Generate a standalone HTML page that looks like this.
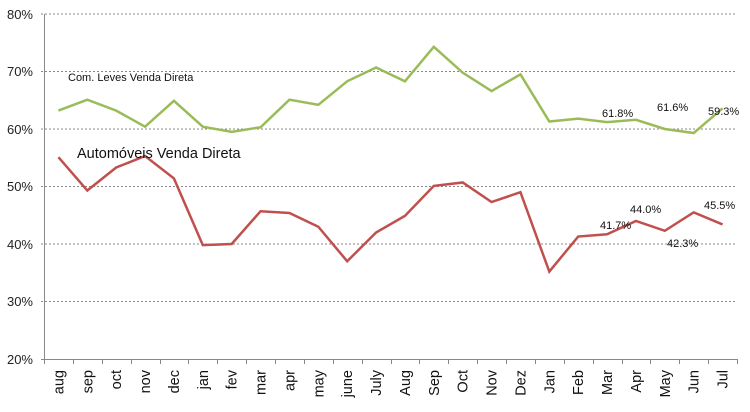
<!DOCTYPE html>
<html><head><meta charset="utf-8"><style>
html,body{margin:0;padding:0;background:#fff}
svg{display:block;font-family:"Liberation Sans",sans-serif}
</style></head><body>
<svg width="750" height="412" viewBox="0 0 750 412" xmlns="http://www.w3.org/2000/svg">
<g stroke="#888" stroke-dasharray="2,2" stroke-width="1">
<line x1="41" y1="14" x2="737" y2="14"/>
<line x1="41" y1="71.5" x2="737" y2="71.5"/>
<line x1="41" y1="129" x2="737" y2="129"/>
<line x1="41" y1="186.5" x2="737" y2="186.5"/>
<line x1="41" y1="244" x2="737" y2="244"/>
<line x1="41" y1="301.5" x2="737" y2="301.5"/>
</g>
<line x1="44.5" y1="14" x2="44.5" y2="359" stroke="#888"/>
<line x1="41" y1="359.5" x2="737" y2="359.5" stroke="#888"/>
<g id="ticks" stroke="#888"></g>
<g font-size="13" fill="#222" text-anchor="end">
<text x="33" y="19">80%</text><text x="33" y="76">70%</text><text x="33" y="134">60%</text>
<text x="33" y="191">50%</text><text x="33" y="249">40%</text><text x="33" y="306">30%</text><text x="33" y="364">20%</text>
</g>
<g id="xl" font-size="14.5" fill="#111"></g>
<polyline id="g" fill="none" stroke="#9bbb59" stroke-width="2.5"/>
<polyline id="r" fill="none" stroke="#c0504d" stroke-width="2.5"/>
<text x="68" y="81" font-size="11" fill="#111">Com. Leves Venda Direta</text>
<text x="77" y="158" font-size="14.5" fill="#111">Automóveis Venda Direta</text>
<g font-size="11" fill="#111">
<text x="602" y="117">61.8%</text><text x="657" y="111">61.6%</text><text x="708" y="115">59.3%</text>
<text x="600" y="229">41.7%</text><text x="630" y="213">44.0%</text><text x="667" y="247">42.3%</text><text x="704" y="209">45.5%</text>
</g>
<script>
var labs=["aug","sep","oct","nov","dec","jan","fev","mar","apr","may","june","July","Aug","Sep","Oct","Nov","Dez","Jan","Feb","Mar","Apr","May","Jun","Jul"];
var G=[63.2,65.1,63.2,60.4,64.9,60.4,59.5,60.3,65.1,64.2,68.3,70.7,68.3,74.3,69.8,66.6,69.5,61.3,61.8,61.2,61.6,60.0,59.3,63.6];
var R=[55.1,49.3,53.3,55.3,51.4,39.8,40.0,45.7,45.4,43.0,37.0,42.0,44.9,50.1,50.7,47.3,49.0,35.2,41.3,41.7,44.0,42.3,45.5,43.4];
var ns="http://www.w3.org/2000/svg",w=28.875;
function X(i){return 44+w/2+i*w}function Y(v){return 14+(80-v)*5.75}
document.getElementById("g").setAttribute("points",G.map(function(v,i){return X(i)+","+Y(v)}).join(" "));
document.getElementById("r").setAttribute("points",R.map(function(v,i){return X(i)+","+Y(v)}).join(" "));
var t=document.getElementById("ticks"),xl=document.getElementById("xl");
for(var i=0;i<=24;i++){var l=document.createElementNS(ns,"line");var x=Math.round(44+i*w)+.5;l.setAttribute("x1",x);l.setAttribute("x2",x);l.setAttribute("y1",359);l.setAttribute("y2",364);t.appendChild(l);}
labs.forEach(function(s,i){var e=document.createElementNS(ns,"text");var x=X(i)+5;e.setAttribute("transform","translate("+x+",370) rotate(-90)");e.setAttribute("text-anchor","end");e.textContent=s;xl.appendChild(e);});
</script>
</svg>
</body></html>
